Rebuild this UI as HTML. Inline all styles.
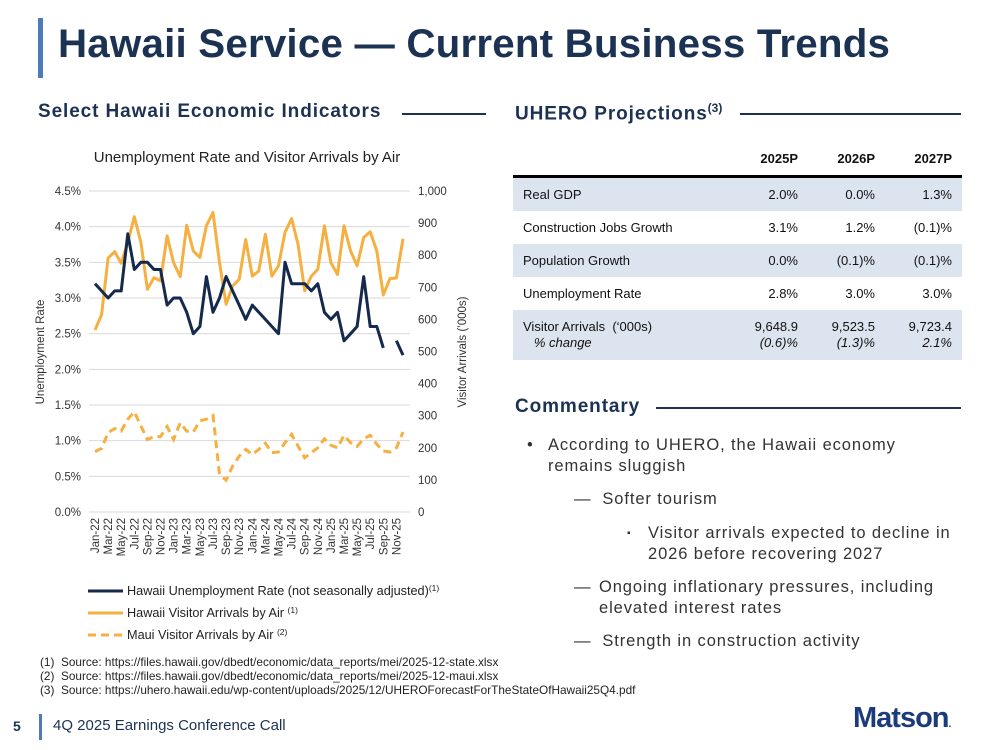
<!DOCTYPE html>
<html><head><meta charset="utf-8">
<style>
body{margin:0;width:999px;height:750px;position:relative;background:#fff;font-family:"Liberation Sans",sans-serif;overflow:hidden;color:#222}
.abs{position:absolute}
.navy{color:#1c3253}
.sec{font-weight:bold;font-size:19px;color:#1c3253;letter-spacing:0.9px}
table{border-collapse:collapse}
.tbl td{font-size:13px;height:33px;padding:0 10px;color:#111}
.tbl td.n{text-align:right;width:57px}
.sh td{background:#dce4f0}
.cm{font-size:16.5px;color:#333;line-height:21px;letter-spacing:0.9px}
</style></head><body>
<div class="abs" style="left:38px;top:18px;width:5px;height:60px;background:#4c7cb8"></div>
<div class="abs navy" style="left:58px;top:21px;font-size:40.3px;font-weight:bold;letter-spacing:0.2px">Hawaii Service — Current Business Trends</div>

<div class="abs sec" style="left:38px;top:101px">Select Hawaii Economic Indicators</div>
<div class="abs" style="left:402px;top:113px;width:84px;height:2px;background:#1c3253"></div>
<div class="abs sec" style="left:515px;top:101px">UHERO Projections<sup style="font-size:12px;letter-spacing:0">(3)</sup></div>
<div class="abs" style="left:740px;top:113px;width:221px;height:2px;background:#1c3253"></div>

<table class="abs tbl" style="left:513px;top:142px;width:449px">
<tr style="border-bottom:3px solid #000"><td style="height:28px"></td><td class="n"><b>2025P</b></td><td class="n"><b>2026P</b></td><td class="n"><b>2027P</b></td></tr>
<tr class="sh"><td>Real GDP</td><td class="n">2.0%</td><td class="n">0.0%</td><td class="n">1.3%</td></tr>
<tr><td>Construction Jobs Growth</td><td class="n">3.1%</td><td class="n">1.2%</td><td class="n">(0.1)%</td></tr>
<tr class="sh"><td>Population Growth</td><td class="n">0.0%</td><td class="n">(0.1)%</td><td class="n">(0.1)%</td></tr>
<tr><td>Unemployment Rate</td><td class="n">2.8%</td><td class="n">3.0%</td><td class="n">3.0%</td></tr>
<tr class="sh"><td style="height:50px;line-height:16px">Visitor Arrivals &nbsp;(‘000s)<br><i>&nbsp;&nbsp;&nbsp;% change</i></td><td class="n" style="line-height:16px">9,648.9<br><i>(0.6)%</i></td><td class="n" style="line-height:16px">9,523.5<br><i>(1.3)%</i></td><td class="n" style="line-height:16px">9,723.4<br><i>2.1%</i></td></tr>
</table>

<div class="abs sec" style="left:515px;top:396px">Commentary</div>
<div class="abs" style="left:656px;top:407px;width:305px;height:2px;background:#1c3253"></div>
<div class="abs cm" style="left:527px;top:435px">•</div>
<div class="abs cm" style="left:548px;top:435px;width:420px">According to UHERO, the Hawaii economy<br>remains sluggish</div>
<div class="abs cm" style="left:574px;top:489px">—&nbsp;&nbsp;Softer tourism</div>
<div class="abs cm" style="left:627px;top:523px;font-size:10px">▪</div>
<div class="abs cm" style="left:648px;top:523px">Visitor arrivals expected to decline in<br>2026 before recovering 2027</div>
<div class="abs cm" style="left:574px;top:577px">—</div>
<div class="abs cm" style="left:599px;top:577px">Ongoing inflationary pressures, including<br>elevated interest rates</div>
<div class="abs cm" style="left:574px;top:631px">—&nbsp;&nbsp;Strength in construction activity</div>

<svg class="abs" style="left:0;top:0" width="500" height="650" id="chart"></svg>

<div class="abs" style="left:40px;top:655px;font-size:11.8px;line-height:14px;color:#222">
(1)&nbsp; Source: https://files.hawaii.gov/dbedt/economic/data_reports/mei/2025-12-state.xlsx<br>
(2)&nbsp; Source: https://files.hawaii.gov/dbedt/economic/data_reports/mei/2025-12-maui.xlsx<br>
(3)&nbsp; Source: https://uhero.hawaii.edu/wp-content/uploads/2025/12/UHEROForecastForTheStateOfHawaii25Q4.pdf</div>

<div class="abs navy" style="left:13px;top:718px;font-size:14px;font-weight:bold">5</div>
<div class="abs" style="left:39px;top:714px;width:3px;height:26px;background:#4c7cb8"></div>
<div class="abs navy" style="left:53px;top:717px;font-size:15px">4Q 2025 Earnings Conference Call</div>
<div class="abs" style="left:853px;top:702px;font-size:29px;font-weight:bold;color:#1c3b7a;letter-spacing:-1px">Matson<span style="font-size:10px">.</span></div>

<script>
const months=["Jan-22","Feb-22","Mar-22","Apr-22","May-22","Jun-22","Jul-22","Aug-22","Sep-22","Oct-22","Nov-22","Dec-22","Jan-23","Feb-23","Mar-23","Apr-23","May-23","Jun-23","Jul-23","Aug-23","Sep-23","Oct-23","Nov-23","Dec-23","Jan-24","Feb-24","Mar-24","Apr-24","May-24","Jun-24","Jul-24","Aug-24","Sep-24","Oct-24","Nov-24","Dec-24","Jan-25","Feb-25","Mar-25","Apr-25","May-25","Jun-25","Jul-25","Aug-25","Sep-25","Oct-25","Nov-25","Dec-25"];
const unemployment=[3.2,3.1,3.0,3.1,3.1,3.9,3.4,3.5,3.5,3.4,3.4,2.9,3.0,3.0,2.8,2.5,2.6,3.3,2.8,3.0,3.3,3.1,2.9,2.7,2.9,2.8,2.7,2.6,2.5,3.5,3.2,3.2,3.2,3.1,3.2,2.8,2.7,2.8,2.4,2.5,2.6,3.3,2.6,2.6,2.3,null,2.4,2.2];
const hawaiiVisitors=[567,615,791,811,775,840,920,840,694,730,720,860,777,733,893,813,793,892,933,777,647,704,725,849,735,751,865,735,767,871,914,833,689,735,756,892,777,740,892,813,767,855,873,813,676,727,729,851];
const mauiVisitors=[188,198,247,260,252,289,312,268,226,235,235,266,226,278,252,249,284,289,301,117,99,143,174,195,179,195,214,185,187,216,242,205,169,185,200,228,208,200,239,216,204,228,239,211,190,187,200,249];
const leftTicks=["0.0%","0.5%","1.0%","1.5%","2.0%","2.5%","3.0%","3.5%","4.0%","4.5%"];
const rightTicks=["0","100","200","300","400","500","600","700","800","900","1,000"];

const svg=document.getElementById('chart');
const NS='http://www.w3.org/2000/svg';
const X0=95,X1=403,Y0=512,Y1=191;
const xs=i=>X0+(X1-X0)*i/(months.length-1);
const yl=v=>Y0-(Y0-Y1)*v/4.5;
const yr=v=>Y0-(Y0-Y1)*v/1000;
function mk(t,a){const e=document.createElementNS(NS,t);for(const k in a)e.setAttribute(k,a[k]);svg.appendChild(e);return e;}

let t=mk('text',{x:247,y:162,'text-anchor':'middle','font-size':15,fill:'#222'});t.textContent='Unemployment Rate and Visitor Arrivals by Air';



leftTicks.forEach((s,i)=>{const y=yl(i*0.5);
 const g=mk('line',{x1:89,x2:410,y1:y,y2:y,stroke:'#d9d9d9','stroke-width':1});
 
 
 const e=mk('text',{x:81,y:y+4,'text-anchor':'end','font-size':11.5,fill:'#333'});e.textContent=s;
 
 });
rightTicks.forEach((s,i)=>{const e=mk('text',{x:418,y:yr(i*100)+4,'font-size':11.5,fill:'#333'});e.textContent=s;
 
 });
months.forEach((m,i)=>{if(i%2)return;const x=xs(i)+4;const e=mk('text',{x:x,y:518,transform:`rotate(-90 ${x} 518)`,'text-anchor':'end','font-size':11.5,fill:'#333'});e.textContent=m;
 
 });
let a=mk('text',{x:44,y:352,transform:'rotate(-90 44 352)','text-anchor':'middle','font-size':11.5,fill:'#333'});a.textContent='Unemployment Rate';


a=mk('text',{x:466,y:352,transform:'rotate(-90 466 352)','text-anchor':'middle','font-size':11.5,fill:'#333'});a.textContent='Visitor Arrivals (\u2019000s)';



function path(arr,f){let d='',pen=false;arr.forEach((v,i)=>{if(v==null){pen=false;return;}d+=(pen?'L':'M')+xs(i).toFixed(1)+' '+f(v).toFixed(1);pen=true;});return d;}
let p=mk('path',{d:path(mauiVisitors,yr),fill:'none',stroke:'#f5b041','stroke-width':3,'stroke-dasharray':'8 5'});


p=mk('path',{d:path(hawaiiVisitors,yr),fill:'none',stroke:'#f5b041','stroke-width':3,'stroke-linejoin':'round'});


p=mk('path',{d:path(unemployment,yl),fill:'none',stroke:'#15294d','stroke-width':3,'stroke-linejoin':'round'});



const leg=[['Hawaii Unemployment Rate (not seasonally adjusted)','(1)','#15294d',''],['Hawaii Visitor Arrivals by Air ','(1)','#f5b041',''],['Maui Visitor Arrivals by Air ','(2)','#f5b041','8 5']];
leg.forEach((l,i)=>{const y=591+i*22;
 const ln=mk('line',{x1:88,x2:123,y1:y,y2:y,stroke:l[2],'stroke-width':3,'stroke-dasharray':l[3]});
 
 
 const e=mk('text',{x:127,y:y+4,'font-size':12.7,fill:'#222'});e.textContent=l[0];
 const s=document.createElementNS(NS,'tspan');s.setAttribute('font-size','8.5');s.setAttribute('dy','-4');s.textContent=l[1];e.appendChild(s);
 
 });
</script>
</body></html>
